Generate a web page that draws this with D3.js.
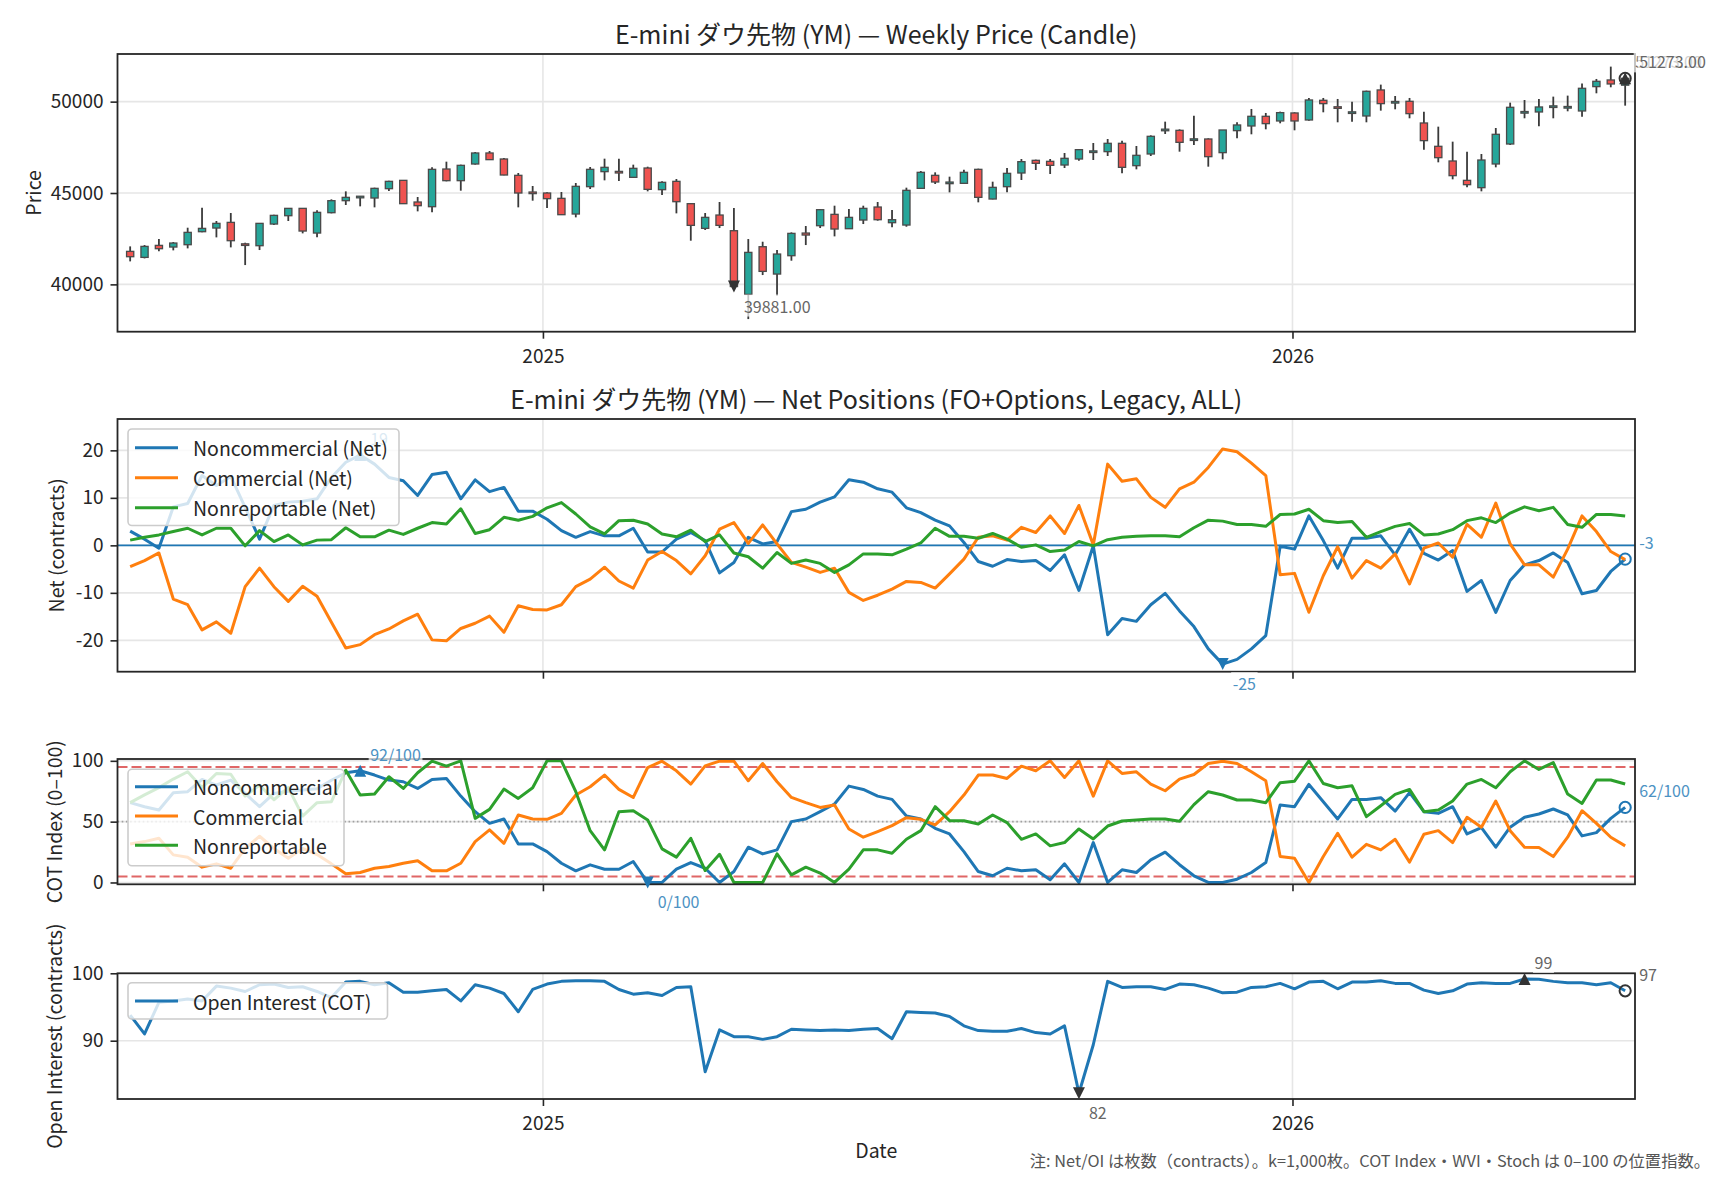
<!DOCTYPE html>
<html><head><meta charset="utf-8">
<script src="https://cdn.jsdelivr.net/npm/d3@7"></script>
<style>body{margin:0;background:#fff}</style>
</head><body>
<svg id="c" width="1728" height="1180" xmlns="http://www.w3.org/2000/svg"></svg>
<script>
// ---------------- DATA ----------------
const dates = ("2024-06-14,2024-06-21,2024-06-28,2024-07-05,2024-07-12,2024-07-19,2024-07-26,2024-08-02,2024-08-09,2024-08-16," +
"2024-08-23,2024-08-30,2024-09-06,2024-09-13,2024-09-20,2024-09-27,2024-10-04,2024-10-11,2024-10-18,2024-10-25," +
"2024-11-01,2024-11-08,2024-11-15,2024-11-22,2024-11-29,2024-12-06,2024-12-13,2024-12-20,2024-12-27,2025-01-03," +
"2025-01-10,2025-01-17,2025-01-24,2025-01-31,2025-02-07,2025-02-14,2025-02-21,2025-02-28,2025-03-07,2025-03-14," +
"2025-03-21,2025-03-28,2025-04-04,2025-04-11,2025-04-18,2025-04-25,2025-05-02,2025-05-09,2025-05-16,2025-05-23," +
"2025-05-30,2025-06-06,2025-06-13,2025-06-20,2025-06-27,2025-07-04,2025-07-11,2025-07-18,2025-07-25,2025-08-01," +
"2025-08-08,2025-08-15,2025-08-22,2025-08-29,2025-09-05,2025-09-12,2025-09-19,2025-09-26,2025-10-03,2025-10-10," +
"2025-10-17,2025-10-24,2025-10-31,2025-11-07,2025-11-14,2025-11-21,2025-11-28,2025-12-05,2025-12-12,2025-12-19," +
"2025-12-26,2026-01-02,2026-01-09,2026-01-16,2026-01-23,2026-01-30,2026-02-06,2026-02-13,2026-02-20,2026-02-27," +
"2026-03-06,2026-03-13,2026-03-20,2026-03-27,2026-04-03,2026-04-10,2026-04-17,2026-04-24,2026-05-01,2026-05-08," +
"2026-05-15,2026-05-22,2026-05-29,2026-06-05,2026-06-12").split(",");

const open = [41806,41477,42134,42043,42171,42883,43083,43393,42190,42116,
 43302,43758,44160,42809,43923,44580,44760,44726,45237,45693,
 44507,44251,46313,45675,46587,47190,46861,45967,45030,45000,
 44708,43850,45346,46168,46150,45857,46368,45182,45638,44416,
 43065,43795,42937,39450,42061,40565,41569,42809,43211,43832,
 43047,43521,44233,43375,43247,45255,45967,45540,45529,46295,
 44671,45346,46095,46788,46733,46532,46861,47240,47263,47719,
 46496,47135,48430,48430,47900,47956,47208,48412,48668,49197,
 48942,49380,48996,50073,49690,49380,49215,50639,49950,50018,
 48832,47555,46752,45693,45292,46588,47682,49400,49434,49710,
 49680,49489,50821,51186,50900];
const high = [42079,42152,42481,42317,43101,44197,43467,43905,42280,43357,
 43813,44178,44178,44050,44653,45091,44836,45292,45675,45711,
 44781,46405,46715,46551,47244,47299,46916,46095,45383,45036,
 45054,45547,46423,46879,46879,46551,46441,45638,45766,44452,
 43905,44507,44178,42481,42335,41879,42846,43193,44124,44306,
 44124,44306,44507,44069,45292,46204,46131,45894,46277,46332,
 45620,46368,46861,46825,46861,47190,47409,47737,47956,47865,
 47573,48157,48905,48485,49234,47993,48449,48869,49599,49380,
 49453,49416,50201,50201,50146,50000,50602,50931,50310,50201,
 49453,48631,47810,47263,47135,48558,49945,50091,50146,50274,
 50329,50986,51241,51916,51450];
const low = [41258,41422,41806,41861,41970,42846,42572,42025,41057,41879,
 43247,43467,42791,42572,43886,44343,44270,44215,45109,44397,
 43996,43941,45638,45127,46551,46806,45967,44215,44580,44178,
 43795,43667,45219,45693,45657,45821,45091,44890,43886,42390,
 42974,43083,39800,38101,40510,39380,41295,42152,43083,42627,
 43029,43302,43484,43120,43156,45219,45492,45036,45492,44489,
 44653,45036,45711,46259,46040,46368,46770,46806,47025,46076,
 46295,47025,48230,47262,47627,46441,46843,47993,48212,48485,
 48814,48431,48960,49416,48869,48905,48869,49507,49580,49088,
 47372,46679,45748,45310,45091,46405,47627,49088,48650,49088,
 49471,49179,50456,50785,49780];
const close = [41514,42079,41952,42262,42846,43065,43339,42390,42160,43339,
 43777,44160,42919,43941,44580,44762,44800,45255,45638,44416,
 44306,46295,45675,46514,47190,46825,45985,45000,44990,44690,
 43813,45365,46295,46405,46130,46350,45200,45584,44525,43229,
 43667,43229,39881,41751,40711,41660,42791,42700,44087,43029,
 43667,44160,43539,43539,45146,46131,45602,45570,46131,44762,
 45310,46076,46715,46624,46514,46898,47372,47280,47719,46405,
 47062,48102,48470,47773,47940,46989,48449,48723,49197,48796,
 49398,48942,50091,49891,49660,49415,50566,49891,49980,49343,
 47865,46934,45949,45456,46806,48212,49690,49430,49708,49740,
 49700,50730,51113,50967,51273];

const netNonComm = [3.0,1.3,-0.6,8.1,8.8,14.7,12.6,14.5,8.0,1.3,
 8.4,9.1,9.3,9.8,14.3,17.5,19.0,17.1,14.3,13.6,
 10.5,14.9,15.4,9.8,13.8,11.3,12.2,7.2,7.2,5.5,
 3.1,1.7,2.9,2.0,2.0,3.6,-1.4,-1.4,1.3,2.7,
 1.0,-5.8,-3.6,1.7,0.3,0.8,7.1,7.6,9.1,10.2,
 13.8,13.3,11.9,11.2,7.9,6.9,5.3,4.1,0.6,-3.4,
 -4.4,-3.0,-3.4,-3.2,-5.3,-2.0,-9.5,-0.1,-18.8,-15.4,
 -16.0,-12.5,-10.1,-13.8,-17.1,-21.8,-25.0,-24.0,-21.8,-19.0,
 -0.2,-0.8,6.2,1.0,-4.8,1.5,1.5,2.0,-2.0,3.4,
 -1.7,-3.1,-1.1,-9.7,-7.4,-14.1,-7.4,-4.1,-3.2,-1.6,
 -3.6,-10.2,-9.5,-5.5,-2.9];
const netComm = [-4.5,-3.2,-1.6,-11.3,-12.5,-17.8,-16.1,-18.5,-8.7,-4.8,
 -8.7,-11.8,-8.6,-10.7,-16.2,-21.6,-20.9,-18.8,-17.6,-15.9,
 -14.5,-19.9,-20.1,-17.5,-16.4,-14.9,-18.3,-12.7,-13.5,-13.6,
 -12.5,-8.7,-7.1,-4.6,-7.5,-9.0,-3.1,-1.3,-3.2,-6.0,
 -2.2,3.4,4.8,0.4,4.3,0.3,-3.6,-4.6,-5.7,-4.8,
 -9.9,-11.6,-10.5,-9.2,-7.6,-7.8,-9.0,-6.0,-2.9,1.7,
 2.0,1.1,3.8,2.7,6.2,2.5,8.4,0.1,17.1,13.5,
 14.0,10.1,8.0,11.9,13.3,16.4,20.3,19.7,17.3,14.7,
 -6.2,-5.9,-14.1,-6.4,-0.3,-6.9,-3.2,-4.8,-1.8,-8.1,
 -0.6,0.5,-2.5,4.4,1.7,8.9,0.3,-4.1,-4.1,-6.7,
 -0.8,6.2,2.9,-1.3,-3.0];
const netNonRep = [1.1,1.7,2.2,2.9,3.6,2.2,3.6,3.6,-0.1,3.1,
 0.8,2.2,0.1,1.1,1.2,3.7,1.8,1.8,3.2,2.3,
 3.6,4.8,4.5,7.7,2.5,3.3,5.9,5.3,6.1,7.9,
 9.0,6.6,3.9,2.4,5.2,5.3,4.5,2.4,1.8,3.2,
 0.8,2.2,-1.6,-2.4,-4.8,-1.5,-3.8,-3.1,-3.8,-5.7,
 -4.1,-1.8,-1.8,-2.0,-0.8,0.5,3.6,1.9,1.9,1.5,
 2.5,1.3,-0.4,0.1,-1.3,-1.0,0.8,-0.1,1.2,1.7,
 1.9,2.0,2.0,1.8,3.7,5.3,5.1,4.4,4.4,4.0,
 6.5,6.6,7.6,5.2,4.8,5.0,1.7,2.9,4.0,4.6,
 2.2,2.4,3.3,5.2,5.8,4.8,6.8,8.1,7.3,8.0,
 4.4,3.8,6.5,6.5,6.2];

const cotNonComm = [65.6,62.3,59.6,73.8,74.6,84.7,80.1,84.2,73.2,62.3,
 73.2,75.0,76.0,77.0,84.0,90.2,91.8,88.3,84.2,82.8,
 77.3,84.7,85.5,71.0,58.2,48.6,52.2,31.7,31.7,25.4,
 15.8,9.6,14.5,10.9,10.9,17.2,0,0,10.9,16.4,
 11.7,0,9.0,29.0,23.5,26.8,50.0,52.2,58.2,64.5,
 79.2,76.5,71.0,68.3,54.6,52.2,44.5,39.9,25.4,9.0,
 5.5,11.7,9.6,10.4,2.2,15.3,0,32.8,0,10.4,
 8.2,18.6,24.9,14.6,5.5,0,0,2.7,8.2,16.4,
 63.7,62.3,80.6,66.4,52.2,68.3,68.3,69.7,58.7,73.8,
 58.2,56.8,62.3,39.9,45.1,29.0,45.4,53.6,56.3,60.4,
 55.5,38.3,41.0,52.7,61.7];
const cotComm = [31.7,33.6,36.3,22.7,20.8,12.6,15.3,11.7,28.1,38.0,
 28.0,20.0,28.0,23.0,15.3,7.1,8.2,11.7,13.1,15.8,
 17.8,9.6,9.6,15.8,33.6,43.2,32.2,55.5,52.2,51.9,
 56.8,71.9,78.7,88.3,76.5,69.9,94.5,99.7,91.8,80.9,
 95.9,99.7,99.7,83.6,97.8,82.8,69.9,65.6,61.7,63.7,
 44.0,37.2,41.8,46.7,53.3,51.9,47.3,58.2,71.9,88.3,
 88.3,85.5,95.6,91.8,100,86.3,100,71.0,100,89.6,
 91.0,80.9,75.4,85.0,88.8,97.8,99.7,97.8,91.0,83.6,
 21.3,19.9,0,21.3,40.4,20.8,31.4,26.8,35.5,16.7,
 39.6,42.6,32.8,53.6,45.4,66.9,42.6,28.9,28.7,21.3,
 37.2,59.0,48.6,37.2,30.1];
const cotNonRep = [65.6,72.0,78.0,85.0,91.0,78.0,89.6,89.0,71.0,80.0,
 68.0,78.0,54.6,65.6,66.4,92.3,71.9,72.7,86.9,77.3,
 90.2,99.7,95.6,100,52.7,60.1,76.8,69.1,77.9,100,
 100,74.6,42.6,26.8,58.2,59.0,51.4,27.6,20.8,36.3,
 9.8,23.2,0,0,0,23.5,6.3,12.6,7.7,0,
 10.9,26.8,26.8,24.0,35.5,42.6,62.3,50.8,50.8,48.1,
 55.5,49.2,35.5,39.9,30.1,32.8,44.0,35.8,46.4,50.5,
 51.4,52.2,52.2,50.4,64.0,74.6,71.9,67.8,67.8,65.6,
 82.0,83.3,100,81.4,77.9,79.5,54.1,63.1,72.4,76.5,
 58.2,59.6,66.9,80.9,84.7,77.9,91.0,100,92.9,98.6,
 72.7,65.0,84.2,84.2,80.9];

const openInterest = [93.8,91.0,95.7,95.9,96.2,95.9,98.1,97.8,97.3,98.3,
 98.4,97.9,98.0,97.3,96.4,98.7,98.8,98.3,98.6,97.2,
 97.2,97.4,97.6,95.9,98.3,97.8,97.0,94.3,97.6,98.4,
 98.8,98.9,98.9,98.8,97.6,96.9,97.1,96.7,97.9,98.0,
 85.4,91.6,90.6,90.6,90.2,90.6,91.7,91.6,91.5,91.6,
 91.5,91.7,91.8,90.3,94.3,94.2,94.1,93.6,92.2,91.5,
 91.4,91.4,91.8,91.2,91.0,92.2,82.2,89.4,98.8,97.9,
 98.0,98.0,97.6,98.4,98.3,97.8,97.1,97.2,97.9,98.0,
 98.5,97.7,98.7,98.8,97.7,98.7,98.7,98.9,98.5,98.5,
 97.5,97.0,97.4,98.4,98.6,98.5,98.5,99.15,99.1,98.8,
 98.6,98.6,98.3,98.6,97.4];

const yearTicks = ["2025-01-01","2026-01-01"];
const yearLabels = ["2025","2026"];
const priceTicks = [40000,45000,50000];
const netTicks = [-20,-10,0,10,20];
const cotTicks = [0,50,100];
const oiTicks = [90,100];
const netNames = ["Noncommercial (Net)","Commercial (Net)","Nonreportable (Net)"];
const cotNames = ["Noncommercial","Commercial","Nonreportable"];
const oiName = "Open Interest (COT)";
const titles = ["E-mini ダウ先物 (YM) — Weekly Price (Candle)","E-mini ダウ先物 (YM) — Net Positions (FO+Options, Legacy, ALL)"];
const yLabels = ["Price","Net (contracts)","COT Index (0–100)","Open Interest (contracts)"];
const footnote = "注: Net/OI は枚数（contracts）。k=1,000枚。COT Index・WVI・Stoch は 0–100 の位置指数。";

// ---------------- LAYOUT ----------------
const FONT = '"Noto Sans CJK JP","Noto Sans",sans-serif';
const C0="#1f77b4", C1="#ff7f0e", C2="#2ca02c";
const UP="#26a69a", DN="#ef5350";
const L=117.5, R=1635;
const P1={t:54,b:331.7}, P2={t:419,b:671.7}, P3={t:759,b:884.3}, P4={t:973.3,b:1099};
const svg = d3.select("#c");
const parse = d3.utcParse("%Y-%m-%d");
const dts = dates.map(parse);
const xt = yearTicks.map(parse);
const x = d3.scaleUtc().domain([new Date(Date.UTC(2024,5,7,20)), new Date(Date.UTC(2026,5,16,19))]).range([L,R]);

function pad5(lo,hi){const p=(hi-lo)*0.05;return [lo-p,hi+p];}
const yP = d3.scaleLinear().domain(pad5(d3.min(low),d3.max(high))).range([P1.b,P1.t]);
const yN = d3.scaleLinear().domain([-26.6,26.6]).range([P2.b,P2.t]);
const yC = d3.scaleLinear().domain([-1.5,101.5]).range([P3.b,P3.t]);
const yO = d3.scaleLinear().domain(pad5(d3.min(openInterest),d3.max(openInterest))).range([P4.b,P4.t]);

function grid(P,y,ticks){
  const g=svg.append("g");
  g.selectAll("line.h").data(ticks).enter().append("line")
   .attr("x1",L).attr("x2",R).attr("y1",d=>y(d)).attr("y2",d=>y(d))
   .attr("stroke","#e6e6e6").attr("stroke-width",1.6);
  g.selectAll("line.v").data(xt).enter().append("line")
   .attr("x1",d=>x(d)).attr("x2",d=>x(d)).attr("y1",P.t).attr("y2",P.b)
   .attr("stroke","#e6e6e6").attr("stroke-width",1.6);
}
function styleAxis(a){
  a.attr("font-family",FONT).attr("font-size",19);
  a.select(".domain").remove();
  a.selectAll(".tick line").attr("stroke","#262626").attr("stroke-width",1.6);
  a.selectAll(".tick text").attr("fill","#262626");
}
function frame(P,y,ticks,showX){
  svg.append("rect").attr("x",L).attr("y",P.t).attr("width",R-L).attr("height",P.b-P.t)
    .attr("fill","none").attr("stroke","#262626").attr("stroke-width",1.8);
  const ay=svg.append("g").attr("transform",`translate(${L},0)`)
    .call(d3.axisLeft(y).tickValues(ticks).tickSize(7).tickPadding(7).tickFormat(d=>String(d)));
  styleAxis(ay);
  const ax=svg.append("g").attr("transform",`translate(0,${P.b})`)
    .call(d3.axisBottom(x).tickValues(xt).tickSize(7).tickPadding(11).tickFormat((d,i)=>showX?yearLabels[i]:""));
  styleAxis(ax);
}
function marker(type,cx,cy,color){
  const s=6;
  if(type==="up") svg.append("path").attr("d",`M${cx},${cy-s}L${cx+s},${cy+s}L${cx-s},${cy+s}Z`).attr("fill",color);
  else if(type==="down") svg.append("path").attr("d",`M${cx},${cy+s}L${cx+s},${cy-s}L${cx-s},${cy-s}Z`).attr("fill",color);
  else svg.append("circle").attr("cx",cx).attr("cy",cy).attr("r",5.6).attr("fill","none").attr("stroke",color).attr("stroke-width",2);
}
function label(txt,lx,ly,color){
  const g=svg.append("g");
  const t=g.append("text").attr("x",lx).attr("y",ly).attr("dominant-baseline","central")
    .attr("font-family",FONT).attr("font-size",16).attr("fill",color).text(txt);
  const b=t.node().getBBox();
  g.insert("rect","text").attr("x",b.x-1.5).attr("y",b.y+1).attr("width",b.width+3).attr("height",b.height-2)
    .attr("fill","#fff").attr("fill-opacity",0.7);
}
function legend(lx,ly,w,rowYs,items){
  const h = rowYs.length*29.5+8;
  svg.append("rect").attr("x",lx).attr("y",ly).attr("width",w).attr("height",h).attr("rx",4)
    .attr("fill","#fff").attr("fill-opacity",0.8).attr("stroke","#cccccc").attr("stroke-width",1.6);
  items.forEach((it,i)=>{
    const yy=rowYs[i];
    svg.append("line").attr("x1",lx+7).attr("x2",lx+50).attr("y1",yy).attr("y2",yy).attr("stroke",it.c).attr("stroke-width",3);
    svg.append("text").attr("x",lx+65).attr("y",yy).attr("dominant-baseline","central")
      .attr("font-family",FONT).attr("font-size",19.5).attr("fill","#262626").text(it.n);
  });
}
function ylab(txt,cx,cy){
  svg.append("text").attr("transform",`translate(${cx},${cy}) rotate(-90)`).attr("text-anchor","middle")
    .attr("dominant-baseline","central").attr("font-family",FONT).attr("font-size",19.5).attr("fill","#262626").text(txt);
}
function title(txt,cy){
  svg.append("text").attr("x",(L+R)/2).attr("y",cy).attr("text-anchor","middle").attr("dominant-baseline","central")
    .attr("font-family",FONT).attr("font-size",25).attr("fill","#262626").text(txt);
}
const LB="#4c92c3", GR="#666666";
const last = dts.length-1;

// ---------------- PANEL 1: candles ----------------
grid(P1,yP,priceTicks);
const cg=svg.append("g");
dts.forEach((d,i)=>{
  const cx=x(d);
  cg.append("line").attr("x1",cx).attr("x2",cx).attr("y1",yP(high[i])).attr("y2",yP(low[i]))
    .attr("stroke","#3a3a3a").attr("stroke-width",1.8);
});
dts.forEach((d,i)=>{
  const cx=x(d), up=close[i]>=open[i];
  const y1=yP(Math.max(open[i],close[i])), y2=yP(Math.min(open[i],close[i]));
  const h=Math.max(y2-y1,1.6);
  cg.append("rect").attr("x",cx-3.6).attr("y",y1-(h-(y2-y1))/2).attr("width",7.2).attr("height",h)
    .attr("fill",up?UP:DN).attr("stroke","#4a4a4a").attr("stroke-width",1.3);
});
frame(P1,yP,priceTicks,true);
{
  const iMin=d3.minIndex(close), iMax=d3.maxIndex(close);
  marker("down",x(dts[iMin]),yP(close[iMin]),"#333");
  label(close[iMin].toFixed(2),x(dts[iMin])+10,yP(close[iMin])+19,GR);
  marker("up",x(dts[iMax]),yP(close[iMax]),"#333");
  marker("circle",x(dts[last]),yP(close[last]),"#333");
  label(close[iMax].toFixed(2),x(dts[iMax])+10,yP(close[iMax])-17,GR);
  label(close[last].toFixed(2),x(dts[last])+14,yP(close[last])-17,GR);
}
title(titles[0],33);
ylab(yLabels[0],32,(P1.t+P1.b)/2);

// ---------------- PANEL 2: net ----------------
grid(P2,yN,netTicks);
svg.append("line").attr("x1",L).attr("x2",R).attr("y1",yN(0)).attr("y2",yN(0)).attr("stroke",C0).attr("stroke-width",1.6);
[[netNonComm,C0],[netComm,C1],[netNonRep,C2]].forEach(([arr,c])=>{
  svg.append("path").datum(arr).attr("fill","none").attr("stroke",c).attr("stroke-width",3).attr("stroke-linejoin","round")
    .attr("d",d3.line().x((v,i)=>x(dts[i])).y(v=>yN(v)));
});
frame(P2,yN,netTicks,false);
{
  const a=netNonComm, iMin=d3.minIndex(a), iMax=d3.maxIndex(a);
  marker("up",x(dts[iMax]),yN(a[iMax]),C0);
  label(String(Math.round(a[iMax])),x(dts[iMax])+10,yN(a[iMax])-17,LB);
  marker("down",x(dts[iMin]),yN(a[iMin]),C0);
  label(String(Math.round(a[iMin])),x(dts[iMin])+10,yN(a[iMin])+19,LB);
  marker("circle",x(dts[last]),yN(a[last]),C0);
  label(String(Math.round(a[last])),x(dts[last])+14,yN(a[last])-17,LB);
}
legend(128,429,271,[447.7,477.7,507.7],[{n:netNames[0],c:C0},{n:netNames[1],c:C1},{n:netNames[2],c:C2}]);
title(titles[1],398);
ylab(yLabels[1],55,(P2.t+P2.b)/2);

// ---------------- PANEL 3: COT index ----------------
grid(P3,yC,cotTicks);
[[95,"#e06666","10,4"],[5,"#e06666","10,4"]].forEach(([v,c,da])=>{
  svg.append("line").attr("x1",L).attr("x2",R).attr("y1",yC(v)).attr("y2",yC(v)).attr("stroke",c).attr("stroke-width",2).attr("stroke-dasharray",da);
});
svg.append("line").attr("x1",L).attr("x2",R).attr("y1",yC(50)).attr("y2",yC(50)).attr("stroke","#a0a0a0").attr("stroke-width",1.6).attr("stroke-dasharray","1.6,2.6");
[[cotNonComm,C0],[cotComm,C1],[cotNonRep,C2]].forEach(([arr,c])=>{
  svg.append("path").datum(arr).attr("fill","none").attr("stroke",c).attr("stroke-width",3).attr("stroke-linejoin","round")
    .attr("d",d3.line().x((v,i)=>x(dts[i])).y(v=>yC(v)));
});
frame(P3,yC,cotTicks,false);
{
  const a=cotNonComm, iMin=d3.minIndex(a), iMax=d3.maxIndex(a);
  marker("up",x(dts[iMax]),yC(a[iMax]),C0);
  label(Math.round(a[iMax])+"/100",x(dts[iMax])+10,yC(a[iMax])-17,LB);
  marker("down",x(dts[iMin]),yC(a[iMin]),C0);
  label(Math.round(a[iMin])+"/100",x(dts[iMin])+10,yC(a[iMin])+19,LB);
  marker("circle",x(dts[last]),yC(a[last]),C0);
  label(Math.round(a[last])+"/100",x(dts[last])+14,yC(a[last])-17,LB);
}
legend(128,769.3,216,[786.7,816,845.3],[{n:cotNames[0],c:C0},{n:cotNames[1],c:C1},{n:cotNames[2],c:C2}]);
ylab(yLabels[2],53,(P3.t+P3.b)/2);

// ---------------- PANEL 4: open interest ----------------
grid(P4,yO,oiTicks);
svg.append("path").datum(openInterest).attr("fill","none").attr("stroke",C0).attr("stroke-width",3).attr("stroke-linejoin","round")
  .attr("d",d3.line().x((v,i)=>x(dts[i])).y(v=>yO(v)));
frame(P4,yO,oiTicks,true);
{
  const a=openInterest, iMin=d3.minIndex(a), iMax=d3.maxIndex(a);
  marker("up",x(dts[iMax]),yO(a[iMax]),"#333");
  label(String(Math.round(a[iMax])),x(dts[iMax])+10,yO(a[iMax])-17,GR);
  marker("down",x(dts[iMin]),yO(a[iMin]),"#333");
  label(String(Math.round(a[iMin])),x(dts[iMin])+10,yO(a[iMin])+19,GR);
  marker("circle",x(dts[last]),yO(a[last]),"#333");
  label(String(Math.round(a[last])),x(dts[last])+14,yO(a[last])-17,GR);
}
svg.append("rect").attr("x",128).attr("y",982.7).attr("width",259.5).attr("height",36.3).attr("rx",4)
  .attr("fill","#fff").attr("fill-opacity",0.8).attr("stroke","#cccccc").attr("stroke-width",1.6);
svg.append("line").attr("x1",135).attr("x2",178).attr("y1",1001).attr("y2",1001).attr("stroke",C0).attr("stroke-width",3);
svg.append("text").attr("x",193).attr("y",1001).attr("dominant-baseline","central").attr("font-family",FONT)
  .attr("font-size",19.5).attr("fill","#262626").text(oiName);
ylab(yLabels[3],53,(P4.t+P4.b)/2);
svg.append("text").attr("x",(L+R)/2).attr("y",1149).attr("text-anchor","middle").attr("dominant-baseline","central")
  .attr("font-family",FONT).attr("font-size",19.5).attr("fill","#262626").text("Date");
svg.append("text").attr("x",1710).attr("y",1160).attr("text-anchor","end").attr("dominant-baseline","central")
  .attr("font-family",FONT).attr("font-size",16.3).attr("fill","#555").text(footnote);
</script>
</body></html>
